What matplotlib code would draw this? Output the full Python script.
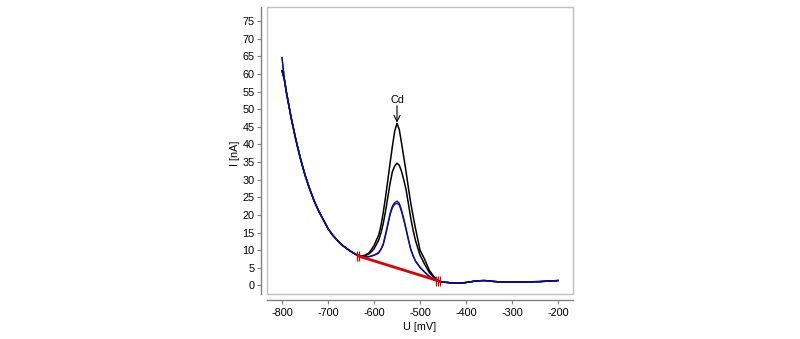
import matplotlib
matplotlib.use("Agg")
import matplotlib.pyplot as plt
from matplotlib.patches import Rectangle

# ---- data ----
x_mv = [-800, -795, -790, -780, -770, -760, -750, -740, -730, -720, -710, -700, -690, -680,
        -670, -660, -650, -640, -630,
        -620, -610, -600, -590, -585, -580, -575, -570, -565, -560, -555, -550, -545, -540,
        -535, -530, -525, -520, -515, -510, -500, -490, -480, -470, -460,
        -450, -440, -430, -420, -410, -400, -390, -380, -370, -360, -350, -340, -330, -320,
        -310, -300, -280, -260, -240, -220, -200]

left_black = [61.0, 58.5, 54.5, 47.5, 41.4, 36.0, 31.3, 27.4, 23.9, 21.0, 18.6, 16.1, 14.3,
              12.8, 11.5, 10.5, 9.6, 8.8, 8.3]
left_blue = [64.7, 58.8, 54.6, 47.6, 41.5, 36.1, 31.4, 27.5, 24.0, 21.1, 18.6, 16.1, 14.3,
             12.8, 11.5, 10.5, 9.6, 8.8, 8.2]
tail = [0.9, 0.8, 0.65, 0.6, 0.65, 0.8, 1.0, 1.2, 1.3, 1.35, 1.25, 1.1, 1.0, 0.95, 0.95,
        0.95, 0.95, 1.0, 1.05, 1.2, 1.35]

peak_black1 = [8.5, 9.3, 11.3, 14.2, 16.8, 20.6, 25.0, 29.8, 34.8, 39.5, 43.8, 46.0, 44.2,
               40.3, 36.2, 32.0, 27.5, 23.3, 19.7, 16.3, 10.0, 7.4, 4.3, 2.5, 1.3]
peak_black2 = [8.4, 9.0, 10.3, 12.8, 14.8, 17.5, 21.0, 25.0, 29.0, 32.3, 33.9, 34.7, 34.1,
               32.3, 29.8, 27.0, 23.0, 19.0, 15.7, 12.8, 8.6, 6.0, 3.7, 2.2, 1.2]
peak_blue1 = [8.1, 8.2, 8.6, 9.3, 10.3, 11.8, 14.5, 17.5, 20.5, 22.5, 23.5, 23.9, 23.3,
              21.3, 18.8, 16.0, 13.0, 10.3, 8.5, 7.0, 5.2, 3.8, 2.6, 1.6, 1.1]
peak_blue2 = [8.0, 8.1, 8.5, 9.1, 10.1, 11.4, 14.0, 17.0, 20.0, 22.0, 23.0, 23.3, 22.8,
              20.8, 18.3, 15.6, 12.7, 10.0, 8.3, 6.8, 5.0, 3.7, 2.5, 1.6, 1.1]

i_black1 = left_black + peak_black1 + tail
i_black2 = left_black + peak_black2 + tail
i_blue1 = left_blue + peak_blue1 + tail
i_blue2 = left_blue + peak_blue2 + tail

baseline_x = [-636, -461]
baseline_i = [8.4, 1.3]
marks_left_x = [-638, -633]
marks_right_x = [-466, -461, -456]

peak_name = "Cd"
peak_x = -550
peak_top = 46.2

x_ticks = [-800, -700, -600, -500, -400, -300, -200]
y_ticks = list(range(0, 80, 5))

# ---- figure ----
plt.rcParams['font.family'] = ['Liberation Sans', 'DejaVu Sans']
plt.rcParams['axes.unicode_minus'] = False
fs = 7.8
fig = plt.figure(figsize=(8.0, 3.39), dpi=100)
ax = fig.add_axes([267/800, 45/339, 306/800, 287/339])

black = '#000000'
blue = '#0c0c9c'
red = '#e00000'

ax.plot(x_mv, i_black1, color=black, lw=1.1)
ax.plot(x_mv, i_black2, color=black, lw=1.1)
ax.plot(x_mv, i_blue2, color=blue, lw=0.9)
ax.plot(x_mv, i_blue1, color=blue, lw=1.0)

ax.plot(baseline_x, baseline_i, color=red, lw=2.0, solid_capstyle='butt')
ax.plot(marks_left_x, [baseline_i[0]] * len(marks_left_x), ls='none', marker='|',
        ms=7, mew=0.9, color=red)
ax.plot(marks_right_x, [baseline_i[1]] * len(marks_right_x), ls='none', marker='|',
        ms=7, mew=0.9, color=red)

ax.annotate('', xy=(peak_x, peak_top), xytext=(peak_x, 51.0),
            arrowprops=dict(arrowstyle='->', lw=0.8, color='black',
                            shrinkA=0, shrinkB=0, mutation_scale=11))
ax.text(peak_x, 52.6, peak_name, ha='center', va='center', fontsize=fs)

ax.set_xlim(-832.6, -167.4)
ax.set_ylim(-2.47, 79.06)
ax.set_xticks(x_ticks)
ax.set_yticks(y_ticks)

for s in ['top', 'right']:
    ax.spines[s].set_visible(False)
for s in ['left', 'bottom']:
    ax.spines[s].set_position(('outward', 4))
    ax.spines[s].set_color('#808080')
    ax.spines[s].set_linewidth(1.0)

ax.add_patch(Rectangle((0, 0), 1, 1, transform=ax.transAxes, fill=False,
                       edgecolor='#c0c0c0', lw=1.0, clip_on=False, zorder=0))

ax.tick_params(axis='both', direction='out', length=3, width=0.8, color='#808080',
               labelsize=fs, labelcolor='black')
ax.tick_params(axis='y', pad=2)
ax.tick_params(axis='x', pad=3)

ax.set_xlabel('U [mV]', fontsize=fs, va='center')
ax.set_ylabel('I [nA]', fontsize=fs, va='center')
ax.xaxis.set_label_coords(0.497, -0.115)
ax.yaxis.set_label_coords(-0.105, 0.49)

fig.savefig('out.png', dpi=100)
